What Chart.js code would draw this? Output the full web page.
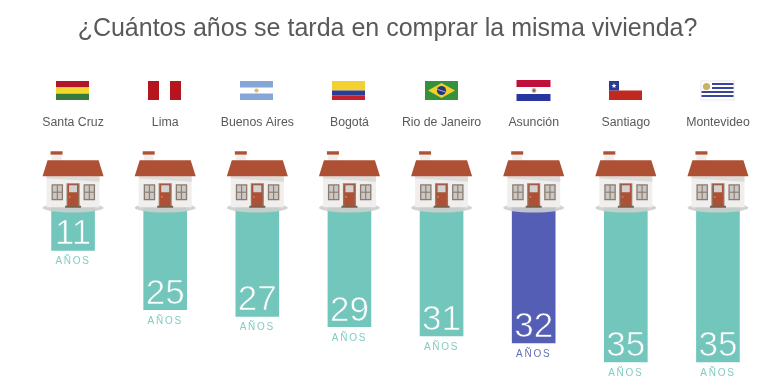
<!DOCTYPE html>
<html>
<head>
<meta charset="utf-8">
<script src="https://cdn.jsdelivr.net/npm/chart.js@4/dist/chart.umd.min.js"></script>
<style>
html, body { margin: 0; padding: 0; background: #fff; }
#wrap { width: 781px; height: 391px; }
</style>
</head>
<body>
<div id="wrap"><canvas id="chart"></canvas></div>
<script>
const titleText = '¿Cuántos años se tarda en comprar la misma vivienda?';
const cities = ['Santa Cruz', 'Lima', 'Buenos Aires', 'Bogotá', 'Rio de Janeiro', 'Asunción', 'Santiago', 'Montevideo'];
const countries = ['bo', 'pe', 'ar', 'co', 'br', 'py', 'cl', 'uy'];
// años impresos en cada barra
const years = [11, 25, 27, 29, 31, 32, 35, 35];
// largo dibujado de cada barra (el original no es del todo proporcional)
const barLengths = [11.1, 25.4, 27, 29.5, 31.7, 33.4, 38, 38];
const highlightCity = 'Asunción';

const TEAL = '#73c6bc';
const BLUE = '#545eb4';

function rect(ctx, color, x, y, w, h) {
    ctx.fillStyle = color;
    ctx.fillRect(x, y, w, h);
}

// Banderas: origen en la esquina superior izquierda, 33 x 19
const flags = {
    bo(ctx) {
        rect(ctx, '#b5152b', 0, 0, 33, 6.4);
        rect(ctx, '#f2d82e', 0, 6.4, 33, 6.3);
        rect(ctx, '#357a3c', 0, 12.7, 33, 6.3);
    },
    pe(ctx) {
        rect(ctx, '#b5161e', 0, 0, 11, 19);
        rect(ctx, '#b5161e', 22, 0, 11, 19);
    },
    ar(ctx) {
        rect(ctx, '#84a7d8', 0, 0, 33, 6.5);
        rect(ctx, '#84a7d8', 0, 12.5, 33, 6.5);
        ctx.fillStyle = '#e8b866';
        ctx.beginPath();
        ctx.arc(16.5, 9.5, 2.1, 0, Math.PI * 2);
        ctx.fill();
    },
    co(ctx) {
        rect(ctx, '#f3d130', 0, 0, 33, 9.5);
        rect(ctx, '#2a3f94', 0, 9.5, 33, 4.8);
        rect(ctx, '#c4202e', 0, 14.3, 33, 4.7);
    },
    br(ctx) {
        rect(ctx, '#35913c', 0, 0, 33, 19);
        ctx.fillStyle = '#f2d02c';
        ctx.beginPath();
        ctx.moveTo(16.5, 2);
        ctx.lineTo(30, 9.5);
        ctx.lineTo(16.5, 17);
        ctx.lineTo(3, 9.5);
        ctx.fill();
        ctx.fillStyle = '#27357f';
        ctx.beginPath();
        ctx.arc(16.5, 9.5, 4.6, 0, Math.PI * 2);
        ctx.fill();
        ctx.strokeStyle = '#dfe6ee';
        ctx.lineWidth = 0.7;
        ctx.beginPath();
        ctx.moveTo(12.4, 8.4);
        ctx.lineTo(20.6, 11);
        ctx.stroke();
    },
    py(ctx) {
        rect(ctx, '#c0103a', -0.5, -1, 34, 7);
        rect(ctx, '#2a36a0', -0.5, 13, 34, 7);
        ctx.fillStyle = '#b8b09a';
        ctx.beginPath();
        ctx.arc(17, 9.5, 2.4, 0, Math.PI * 2);
        ctx.fill();
        ctx.fillStyle = '#a03a3a';
        ctx.beginPath();
        ctx.arc(17, 9.5, 1.1, 0, Math.PI * 2);
        ctx.fill();
    },
    cl(ctx) {
        rect(ctx, '#c1281f', 0, 9.5, 33, 9.5);
        rect(ctx, '#2b3c91', 0, 0, 10, 9.5);
        ctx.fillStyle = '#ffffff';
        ctx.beginPath();
        for (let i = 0; i < 10; i++) {
            const r = i % 2 ? 1.1 : 2.7;
            const a = -Math.PI / 2 + i * Math.PI / 5;
            ctx.lineTo(5 + r * Math.cos(a), 4.8 + r * Math.sin(a));
        }
        ctx.fill();
    },
    uy(ctx) {
        rect(ctx, '#e8e8ea', -0.5, -0.5, 34, 20);
        rect(ctx, '#ffffff', 0.5, 0.5, 32, 18);
        const rows = [[11, 2], [11, 6], [0.5, 10], [0.5, 14]];
        rows.forEach(r => rect(ctx, '#3a45a0', r[0], r[1], 32.5 - r[0], 2));
        ctx.fillStyle = '#c9b45e';
        ctx.beginPath();
        ctx.arc(5.5, 5.5, 3.6, 0, Math.PI * 2);
        ctx.fill();
    }
};

// Casa: origen en el centro de la barra, y = 0 en la parte alta del área del gráfico
function drawHouse(ctx, cx, top) {
    ctx.save();
    ctx.translate(cx, top);

    ctx.fillStyle = 'rgba(205,206,204,0.9)';
    ctx.beginPath();
    ctx.ellipse(0, 3.5, 30.5, 4.8, 0, 0, Math.PI * 2);
    ctx.fill();

    // chimenea
    rect(ctx, '#efeeec', -21.5, -49, 10, 6);
    rect(ctx, '#b05034', -22.5, -53, 12, 3.4);

    // pared
    rect(ctx, '#f0efee', -26.5, -28, 53, 31);
    ctx.fillStyle = '#dcdbda';
    ctx.beginPath();
    ctx.moveTo(-26.5, -28);
    ctx.lineTo(26.5, -28);
    ctx.lineTo(26.5, -22.5);
    ctx.lineTo(-26.5, -26);
    ctx.fill();

    // techo
    ctx.fillStyle = '#ae5033';
    ctx.beginPath();
    ctx.moveTo(-25.5, -44);
    ctx.lineTo(25.5, -44);
    ctx.lineTo(30.5, -28);
    ctx.lineTo(-30.5, -28);
    ctx.fill();

    // ventanas
    [-21.5, 10.5].forEach(x => {
        rect(ctx, '#8c7b6d', x, -20, 11.5, 16);
        rect(ctx, '#c9c8c7', x + 1.3, -18.7, 8.9, 13.4);
        rect(ctx, '#8c7b6d', x + 5.2, -19, 1.1, 14);
        rect(ctx, '#8c7b6d', x + 1, -12.6, 9.5, 1.1);
    });

    // puerta
    rect(ctx, '#8c7b6d', -6.5, -21, 13, 23);
    rect(ctx, '#ae5033', -5.2, -20, 10.4, 22);
    rect(ctx, '#d2d2d2', -4, -19, 8, 7);
    rect(ctx, '#7a5f4c', -8, 1.5, 16, 2);
    rect(ctx, '#e0a080', -3.9, -8, 1.3, 1.3);

    ctx.restore();
}

const housesPlugin = {
    id: 'houses',
    afterLayout(chart) {
        // el título no va centrado sobre las barras, sino algo a la izquierda
        chart.titleBlock.left -= 8;
        chart.titleBlock.right -= 8;
    },
    afterDatasetsDraw(chart) {
        const ctx = chart.ctx;
        const xScale = chart.scales.x;
        const top = chart.chartArea.top;
        const bars = chart.getDatasetMeta(0).data;

        bars.forEach((bar, i) => {
            const cx = xScale.getPixelForValue(i);
            const color = cities[i] === highlightCity ? BLUE : TEAL;

            drawHouse(ctx, cx, top);

            ctx.save();
            ctx.translate(Math.floor(cx - 16.5), 81);
            flags[countries[i]](ctx);
            ctx.restore();

            ctx.textAlign = 'center';
            ctx.textBaseline = 'alphabetic';
            ctx.fillStyle = '#ffffff';
            ctx.font = '35px "Liberation Sans"';
            ctx.fillText(String(years[i]), cx, bar.y - 6);
            // trazo del color de la barra para afinar la cifra, el original es casi light
            ctx.strokeStyle = color;
            ctx.lineWidth = 0.7;
            ctx.strokeText(String(years[i]), cx, bar.y - 6);

            ctx.fillStyle = color;
            ctx.globalAlpha = 0.9;
            ctx.font = '10px "Liberation Sans"';
            ctx.letterSpacing = '1.7px';
            ctx.fillText('AÑOS', cx, bar.y + 14);
            ctx.letterSpacing = '0px';
            ctx.globalAlpha = 1;
        });
    }
};

new Chart(document.getElementById('chart'), {
    type: 'bar',
    data: {
        labels: cities,
        datasets: [{
            data: barLengths,
            backgroundColor: cities.map(c => c === highlightCity ? BLUE : TEAL),
            barThickness: 43
        }]
    },
    options: {
        responsive: true,
        maintainAspectRatio: false,
        animation: false,
        layout: {
            autoPadding: false,
            padding: { left: 27, right: 17, top: 0, bottom: 0 }
        },
        plugins: {
            legend: { display: false },
            tooltip: { enabled: false },
            title: {
                display: true,
                text: titleText,
                color: '#58595b',
                font: { family: '"Liberation Sans"', size: 25, weight: 'normal', lineHeight: 0.9 },
                padding: { top: 18, bottom: 9 }
            }
        },
        scales: {
            x: {
                position: 'top',
                border: { display: false },
                grid: { display: false },
                // sin margen extra por las etiquetas de los extremos
                afterFit(scale) {
                    scale.paddingLeft = 0;
                    scale.paddingRight = 0;
                },
                ticks: {
                    color: '#58595b',
                    font: { family: '"Liberation Sans"', size: 12.3 },
                    maxRotation: 0,
                    autoSkip: false,
                    padding: 66
                }
            },
            y: {
                display: false,
                reverse: true,
                min: 0,
                max: 45
            }
        }
    },
    plugins: [housesPlugin]
});
</script>
</body>
</html>
